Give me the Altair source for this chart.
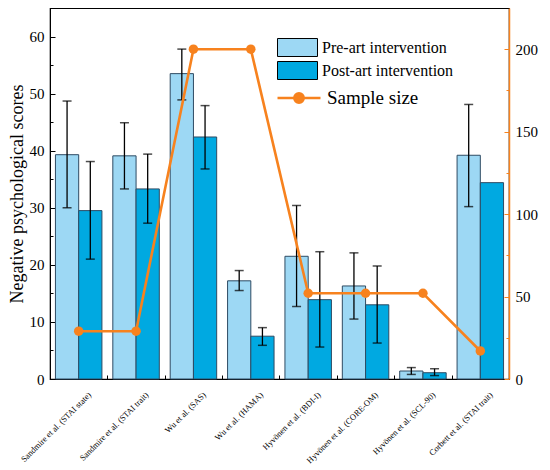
import altair as alt
import pandas as pd

categories = [
    "Sandmire et al. (STAI state)",
    "Sandmire et al. (STAI trait)",
    "Wu et al. (SAS)",
    "Wu et al. (HAMA)",
    "Hyvönen et al. (BDI-I)",
    "Hyvönen et al. (CORE-OM)",
    "Hyvönen et al. (SCL-90)",
    "Corbett et al. (STAI trait)",
]
series = ["Pre-art intervention", "Post-art intervention"]
pre = [39.3, 39.1, 53.5, 17.2, 21.5, 16.3, 1.4, 39.2]
pre_lo = [30.0, 33.3, 48.9, 15.5, 12.7, 10.5, 0.8, 30.2]
pre_hi = [48.7, 44.9, 57.8, 19.0, 30.4, 22.1, 2.0, 48.1]
post = [29.5, 33.3, 42.4, 7.5, 13.9, 13.0, 1.1, 34.4]
post_lo = [21.0, 27.3, 36.8, 5.9, 5.6, 6.3, 0.6, None]
post_hi = [38.1, 39.4, 47.9, 9.0, 22.3, 19.8, 1.8, None]
sample = [29, 29, 200, 200, 52, 52, 52, 17]
sample_label = "Sample size"

left_ticks = [0, 5, 10, 15, 20, 25, 30, 35, 40, 45, 50, 55, 60]
left_labels = [0, 10, 20, 30, 40, 50, 60]
right_ticks = [0, 25, 50, 75, 100, 125, 150, 175, 200]
right_labels = [0, 50, 100, 150, 200]

rows = []
for i, c in enumerate(categories):
    rows.append({"category": c, "series": series[0], "value": pre[i], "lo": pre_lo[i], "hi": pre_hi[i]})
    rows.append({"category": c, "series": series[1], "value": post[i], "lo": post_lo[i], "hi": post_hi[i]})
bars_df = pd.DataFrame(rows)
line_df = pd.DataFrame({"category": categories, "sample": sample, "lbl": [sample_label] * len(categories)})

W, H = 459, 371
SERIF = "Liberation Serif"
ORANGE = "#F7821E"
LIGHT = "#9DD8F4"
DARK = "#00A9E1"

xscale = alt.Scale(domain=categories, paddingInner=0.19, paddingOuter=0.095)
xoff = alt.XOffset("series:N", sort=series, scale=alt.Scale(domain=series, paddingInner=0, paddingOuter=0))
yscale = alt.Scale(domain=[0, 65], nice=False, zero=True)
y2scale = alt.Scale(domain=[0, 225], nice=False, zero=True)

bars = alt.Chart(bars_df).mark_bar(stroke="#2E4B63", strokeWidth=1).encode(
    x=alt.X("category:N", sort=categories, scale=xscale,
            axis=alt.Axis(orient="bottom", title=None, ticks=False, domain=True, domainColor="black",
                          labelAngle=-45, labelFont=SERIF, labelFontSize=8.5, labelColor="black",
                          labelPadding=11, labelOffset=8, labelLimit=200)),
    xOffset=xoff,
    y=alt.Y("value:Q", scale=yscale,
            axis=alt.Axis(orient="left", title="Negative psychological scores", values=left_labels,
                          ticks=False, domain=True, domainColor="black", grid=False,
                          labelFont=SERIF, labelFontSize=15, labelColor="black", labelPadding=6,
                          titleFont=SERIF, titleFontSize=18, titleFontWeight="normal",
                          titleColor="black", titlePadding=3)),
    fill=alt.Fill("series:N", sort=series, scale=alt.Scale(domain=series, range=[LIGHT, DARK]),
                  legend=alt.Legend(title=None, orient="none", legendX=237, legendY=29,
                                    symbolType="M-2,-0.9H2V0.9H-2Z", symbolSize=400,
                                    symbolStrokeColor="black", symbolStrokeWidth=1,
                                    labelFont=SERIF, labelFontSize=16, labelColor="black",
                                    rowPadding=0, labelOffset=14)),
)

err = alt.Chart(bars_df).mark_rule(color="black", strokeWidth=1.3).encode(
    x=alt.X("category:N", sort=categories, scale=xscale,
            axis=alt.Axis(orient="top", offset=-H, title=None, labels=False, domain=False,
                          ticks=True, tickSize=4, tickColor="black", bandPosition=1,
                          tickOffset=5.45, grid=False)),
    xOffset=xoff,
    y=alt.Y("lo:Q", scale=yscale,
            axis=alt.Axis(orient="right", offset=-W, title=None, labels=False, domain=False,
                          values=left_ticks, tickColor="black", grid=False,
                          tickSize={"condition": {"test": "datum.value % 10 === 0", "value": 5}, "value": 3})),
    y2="hi:Q",
)

cap_lo = alt.Chart(bars_df).mark_tick(color="black", size=9, thickness=1.5, orient="horizontal").encode(
    x=alt.X("category:N", sort=categories, scale=xscale, axis=None),
    xOffset=xoff,
    y=alt.Y("lo:Q", scale=yscale, axis=None),
)
cap_hi = alt.Chart(bars_df).mark_tick(color="black", size=9, thickness=1.5, orient="horizontal").encode(
    x=alt.X("category:N", sort=categories, scale=xscale, axis=None),
    xOffset=xoff,
    y=alt.Y("hi:Q", scale=yscale, axis=None),
)

left = alt.layer(bars, err, cap_lo, cap_hi).resolve_axis(x="independent", y="independent")

line = alt.Chart(line_df).mark_line(strokeWidth=2.6).encode(
    x=alt.X("category:N", sort=categories, scale=xscale, axis=None),
    y=alt.Y("sample:Q", scale=y2scale,
            axis=alt.Axis(orient="right", title=None, values=right_labels, ticks=False,
                          domain=True, domainColor=ORANGE, domainWidth=1.5, grid=False,
                          labelFont=SERIF, labelFontSize=15, labelColor="black", labelPadding=6)),
    stroke=alt.Stroke("lbl:N", scale=alt.Scale(domain=[sample_label], range=[ORANGE]),
                      legend=alt.Legend(title=None, orient="none", legendX=237, legendY=78,
                                        symbolType="M-2,0H-0.44M0.44,0H2M0.44,0A0.44,0.44 0 1 1 -0.44,0A0.44,0.44 0 1 1 0.44,0",
                                        symbolSize=462, symbolStrokeColor=ORANGE, symbolFillColor=ORANGE,
                                        symbolStrokeWidth=2.5, labelFont=SERIF, labelFontSize=19,
                                        labelColor="black", labelOffset=16)),
)
pts = alt.Chart(line_df).mark_circle(color=ORANGE, size=90, opacity=1).encode(
    x=alt.X("category:N", sort=categories, scale=xscale, axis=None),
    y=alt.Y("sample:Q", scale=y2scale,
            axis=alt.Axis(orient="left", offset=-W, title=None, labels=False, domain=False,
                          values=right_ticks, tickColor=ORANGE, grid=False,
                          tickSize={"condition": {"test": "datum.value % 50 === 0", "value": 5}, "value": 3})),
)
right = alt.layer(line, pts).resolve_axis(x="independent", y="independent")

chart = alt.layer(left, right).resolve_scale(y="independent").resolve_axis(
    x="independent", y="independent"
).properties(
    width=W, height=H, padding={"left": 0, "top": 0, "right": 3, "bottom": 0}
).configure(background="white", font=SERIF).configure_view(stroke="black", strokeWidth=1.2)

chart.save("out.html", embed_options={"renderer": "svg", "actions": False})
